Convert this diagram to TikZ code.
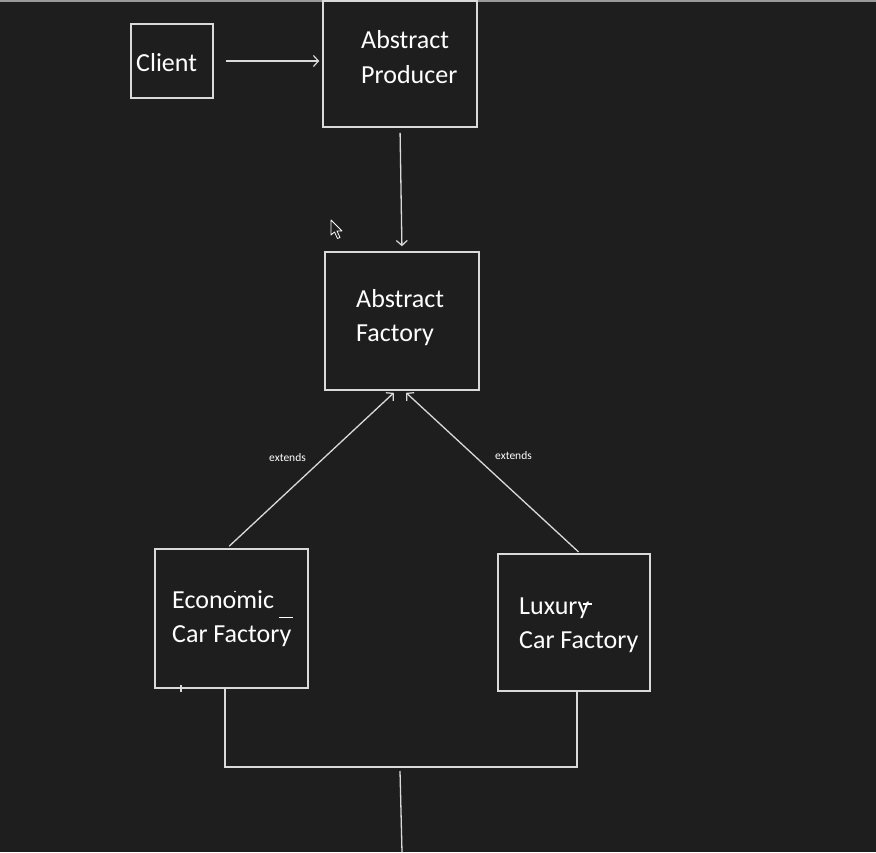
\documentclass[tikz,border=0pt]{standalone}
\usepackage{fontspec}
\setmainfont{Carlito}
\usetikzlibrary{arrows.meta}
\definecolor{bg}{HTML}{1E1E1E}
\definecolor{ln}{HTML}{DADADA}
\definecolor{topbar}{HTML}{9A9A9A}
\tikzset{
  box/.style={draw=ln, line width=1.5pt, rectangle, inner sep=0pt},
  lbl/.style={text=white, font=\fontsize{26}{30}\selectfont, anchor=base west, inner sep=0pt},
  small/.style={text=white, font=\fontsize{11.5}{13}\selectfont, anchor=base west, inner sep=0pt},
  conn/.style={draw=ln, line width=1.3pt},
  arr/.style={conn, -{Straight Barb[length=5pt,width=11pt,line width=1.2pt]}},
}
\begin{document}
\begin{tikzpicture}[x=1pt,y=-1pt]
\fill[bg] (0,0) rectangle (876,852);
\useasboundingbox (0,0) rectangle (876,852);
\fill[topbar] (0,0) rectangle (876,2);

% boxes
\node[box, minimum width=82pt, minimum height=74pt] (client) at (172,61) {};
\node[box, minimum width=154pt, minimum height=126pt] (producer) at (400,64) {};
\node[box, minimum width=154pt, minimum height=138pt] (factory) at (402,321) {};
\node[box, minimum width=153pt, minimum height=139pt] (economic) at (231.5,618.5) {};
\node[box, minimum width=152pt, minimum height=137pt] (luxury) at (574,622.5) {};

% texts
\node[lbl] (tclient) at (136,71) {Client};
\node[lbl] (tprod1) at (361,48.5) {Abstract};
\node[lbl] (tprod2) at (361,83.5) {Producer};
\node[lbl] (tfact1) at (356,307.5) {Abstract};
\node[lbl] (tfact2) at (356,341.5) {Factory};
\node[lbl] (teco1) at (172,608) {Economic};
\node[lbl] (teco2) at (172,642) {Car Factory};
\node[lbl] (tlux1) at (519,614) {Luxury};
\node[lbl] (tlux2) at (519,648) {Car Factory};
\node[small] (ext1) at (269,461) {extends};
\node[small] (ext2) at (495,459) {extends};

% stray marks
\draw[white, line width=1.3pt] (279,617.5) -- (293,617.5);
\draw[white, line width=1.3pt] (583,604) -- (592,604);
\fill[white] (235,591.5) circle (0.9pt);
\draw[ln, line width=1.5pt] (181,685) -- (181,692);

% connectors
\draw[arr, shorten <=12pt, shorten >=3pt] (client.east) -- (client.east -| producer.west);
\draw[arr, shorten <=5pt, shorten >=5pt] (producer.south) -- (factory.south |- factory.north);
\draw[arr, shorten <=3pt, shorten >=3pt] ([xshift=-4.5pt]economic.north) -- ([xshift=-6pt]factory.south);
\draw[arr, shorten <=2pt, shorten >=3pt] ([xshift=6pt]luxury.north) -- ([xshift=2pt]factory.south);

\coordinate (join) at (400,767);
\coordinate (stemtop) at (400,771);
\coordinate (stemend) at (402,852);
\draw[conn] ([xshift=-6.5pt]economic.south) |- (join) -| ([xshift=3pt, yshift=2pt]luxury.south);
\draw[conn] (stemtop) -- (stemend);

% mouse cursor
\draw[white, line width=0.8pt, fill=bg, line join=round]
  (331,220) -- (331,235) -- (334.5,232) -- (337.5,238.5) -- (340,237.5) -- (337,231) -- (342,231) -- cycle;
\end{tikzpicture}
\end{document}
